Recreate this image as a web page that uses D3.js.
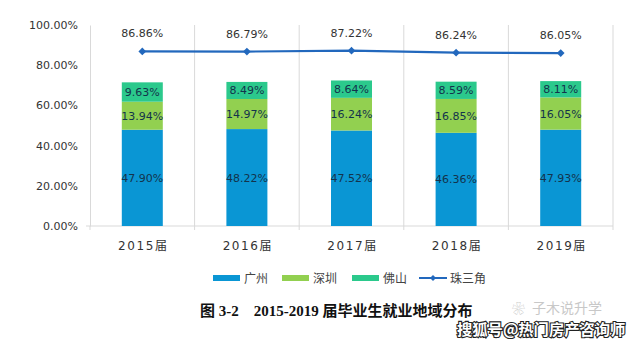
<!DOCTYPE html>
<html><head><meta charset="utf-8">
<script src="https://cdn.jsdelivr.net/npm/d3@7"></script>
<style>body{margin:0;background:#fff}svg{display:block}</style>
</head><body><svg id="c" width="640" height="343"></svg>
<script>
const categories = ["2015届","2016届","2017届","2018届","2019届"];
const guangzhou = [47.90, 48.22, 47.52, 46.36, 47.93];
const shenzhen  = [13.94, 14.97, 16.24, 16.85, 16.05];
const foshan    = [9.63, 8.49, 8.64, 8.59, 8.11];
const zsj       = [86.86, 86.79, 87.22, 86.24, 86.05];
const yTicks = [0, 20, 40, 60, 80, 100];
const seriesNames = ["广州","深圳","佛山","珠三角"];
const colors = ["#0a96d4","#92d050","#2bc98c","#2268bd"];

const svg = d3.select("#c");
const x = d3.scaleBand().domain(categories).range([90, 613]).paddingInner(0).paddingOuter(0);
const y = d3.scaleLinear().domain([0, 100]).range([226, 25]);
const numFont = "DejaVu Sans, Verdana, sans-serif";
const barW = 41;

// vertical gridlines at category boundaries
const bounds = categories.map(c => x(c)).concat([x.range()[1]]);
svg.append("g").selectAll("line").data(bounds.slice(1)).join("line")
  .attr("x1", d => d).attr("x2", d => d).attr("y1", y(100)).attr("y2", y(0))
  .attr("stroke", "#d9d9d9").attr("stroke-width", 1);

// axes
const yAxis = d3.axisLeft(y).tickValues(yTicks).tickSize(0).tickPadding(12)
  .tickFormat(d => d.toFixed(2) + "%");
const gy = svg.append("g").attr("transform", "translate(90,0)").call(yAxis);
gy.select(".domain").attr("stroke", "#d9d9d9");
gy.selectAll("text").attr("font-family", numFont).attr("font-size", 11).attr("fill", "#333");

const gx = svg.append("g").attr("transform", `translate(0,${y(0)})`);
gx.append("line").attr("x1", 86).attr("x2", 613).attr("stroke", "#d9d9d9");
gx.selectAll("line.t").data(bounds).join("line").attr("class","t")
  .attr("x1", d => d).attr("x2", d => d).attr("y1", 0).attr("y2", 4).attr("stroke", "#d9d9d9");
gx.selectAll("text").data(categories).join("text")
  .attr("x", d => x(d) + x.bandwidth()/2 + 1).attr("y", 24)
  .attr("text-anchor", "middle").attr("font-family", numFont + ", 'Noto Sans CJK SC'")
  .attr("font-size", 12).attr("letter-spacing", "1.6px").attr("fill", "#333")
  .text(d => d);

// stacked bars
const rows = categories.map((c, i) => ({cat: c, g: guangzhou[i], s: shenzhen[i], f: foshan[i]}));
const stack = d3.stack().keys(["g","s","f"])(rows);
const gBars = svg.append("g");
stack.forEach((layer, li) => {
  gBars.selectAll(null).data(layer).join("rect")
    .attr("x", d => x(d.data.cat) + x.bandwidth()/2 - barW/2)
    .attr("width", barW)
    .attr("y", d => y(d[1]))
    .attr("height", d => y(d[0]) - y(d[1]))
    .attr("fill", colors[li]);
  gBars.selectAll(null).data(layer).join("text")
    .attr("x", d => x(d.data.cat) + x.bandwidth()/2)
    .attr("y", d => (y(d[0]) + y(d[1]))/2 + 4)
    .attr("text-anchor", "middle").attr("font-family", numFont).attr("font-size", 11)
    .attr("fill", "#13334c")
    .text(d => (d[1]-d[0]).toFixed(2) + "%");
});

// line
const pts = categories.map((c, i) => [x(c) + x.bandwidth()/2, y(zsj[i])]);
svg.append("path").attr("d", d3.line()(pts)).attr("fill", "none")
  .attr("stroke", colors[3]).attr("stroke-width", 2.2);
svg.append("g").selectAll("path").data(pts).join("path")
  .attr("d", d3.symbol(d3.symbolDiamond2, 38)())
  .attr("transform", d => `translate(${d[0]},${d[1]})`).attr("fill", colors[3]);
svg.append("g").selectAll("text").data(categories).join("text")
  .attr("x", (c) => x(c) + x.bandwidth()/2)
  .attr("y", (c, i) => y(zsj[i]) - 14)
  .attr("text-anchor", "middle").attr("font-family", numFont).attr("font-size", 11)
  .attr("fill", "#333").text((c, i) => zsj[i].toFixed(2) + "%");

// legend
const legX = [213, 282, 352, 419];
const lg = svg.append("g").attr("transform", "translate(0,278)");
seriesNames.forEach((n, i) => {
  if (i < 3) {
    lg.append("rect").attr("x", legX[i]).attr("y", -3).attr("width", 27).attr("height", 6).attr("fill", colors[i]);
  } else {
    lg.append("line").attr("x1", legX[i]).attr("x2", legX[i] + 28).attr("stroke", colors[3]).attr("stroke-width", 2);
    lg.append("path").attr("d", d3.symbol(d3.symbolDiamond2, 24)()).attr("transform", `translate(${legX[i]+14},0)`).attr("fill", colors[3]);
  }
  lg.append("text").attr("x", legX[i] + 31).attr("y", 4.5)
    .attr("font-family", "'Noto Sans CJK SC', sans-serif").attr("font-size", 12).attr("fill", "#444").text(n);
});

// caption
svg.append("text").attr("x", 200).attr("y", 316)
  .attr("font-family", "'Liberation Serif', 'Noto Sans CJK SC', serif").attr("font-weight", "bold")
  .attr("font-size", 15).attr("fill", "#111")
  .attr("xml:space", "preserve").text("图 3-2    2015-2019 届毕业生就业地域分布");

// watermarks
svg.append("text").attr("x", 532).attr("y", 313)
  .attr("font-family", "'Noto Sans CJK SC', sans-serif").attr("font-size", 14).attr("fill", "#c8c8c8")
  .text("子木说升学");
svg.append("text").attr("x", 512).attr("y", 313).attr("font-family", "'Noto Sans CJK SC', sans-serif")
  .attr("font-size", 13).attr("fill", "#c8c8c8").text("❀");
svg.append("text").attr("x", 457).attr("y", 335)
  .attr("font-family", "'Noto Sans CJK SC', sans-serif").attr("font-size", 15.3).attr("font-weight", "bold")
  .attr("fill", "#fff").attr("stroke", "#222").attr("stroke-width", 2.2).attr("paint-order", "stroke")
  .text("搜狐号@热门房产咨询师");
</script></body></html>
